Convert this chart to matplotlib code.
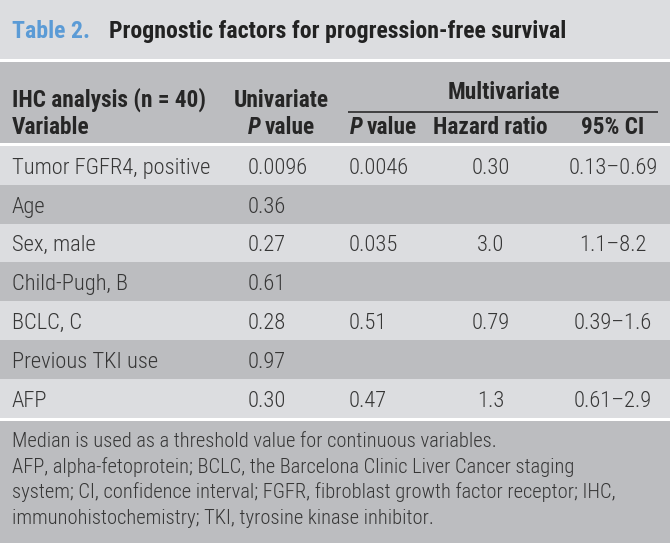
import matplotlib
matplotlib.use("Agg")
import matplotlib.pyplot as plt
from matplotlib import font_manager as fm
from matplotlib.font_manager import FontProperties
from matplotlib.textpath import TextPath

# ---------------- data ----------------
title_label = "Table 2."
title_text = "Prognostic factors for progression-free survival"
header_top = ["IHC analysis (n = 40)", "Univariate", "Multivariate"]
header_bottom = ["Variable", "value", "value", "Hazard ratio", "95% CI"]
variables = ["Tumor FGFR4, positive", "Age", "Sex, male", "Child-Pugh, B",
             "BCLC, C", "Previous TKI use", "AFP"]
uni_p = ["0.0096", "0.36", "0.27", "0.61", "0.28", "0.97", "0.30"]
multi_p = ["0.0046", "", "0.035", "", "0.51", "", "0.47"]
hazard = ["0.30", "", "3.0", "", "0.79", "", "1.3"]
ci95 = ["0.13\u20130.69", "", "1.1\u20138.2", "", "0.39\u20131.6", "", "0.61\u20132.9"]
footnotes = [
    "Median is used as a threshold value for continuous variables.",
    "AFP, alpha-fetoprotein; BCLC, the Barcelona Clinic Liver Cancer staging",
    "system; CI, confidence interval; FGFR, fibroblast growth factor receptor; IHC,",
    "immunohistochemistry; TKI, tyrosine kinase inhibitor.",
]

# ---------------- styling ----------------
W, H, DPI = 670, 543, 100
LIGHT = "#dcdde0"
DARK = "#bcbdc0"
BLUE = "#5b9bd6"
TXT = "#363636"
HTXT = "#262626"

avail = {f.name for f in fm.fontManager.ttflist}
FAM = "Liberation Sans"
for cand in ["Liberation Sans Narrow", "DejaVu Sans Condensed", "Roboto Condensed",
             "Open Sans Condensed", "Liberation Sans"]:
    if cand in avail:
        FAM = cand
        break
FAMS = [FAM, "DejaVu Sans"]
BODYW = 300


def fit_size(s, target_px, weight="normal", style="normal"):
    fp = FontProperties(family=FAMS, size=100, weight=weight, style=style)
    w = TextPath((0, 0), s, prop=fp).get_extents().width
    return 100.0 * target_px / (w * DPI / 72.0)


def text_w(s, size, weight="normal", style="normal"):
    fp = FontProperties(family=FAMS, size=size, weight=weight, style=style)
    return TextPath((0, 0), s, prop=fp).get_extents().width * DPI / 72.0


fs_title = fit_size(title_text, 455, weight="bold")
fs_head = fit_size(header_top[0], 191, weight="bold")
fs_body = fit_size(variables[0], 197, weight=BODYW)
fs_foot = fit_size(footnotes[2], 603, weight=BODYW)

fig = plt.figure(figsize=(W / DPI, H / DPI), dpi=DPI)
fig.patch.set_facecolor(LIGHT)
ax = fig.add_axes([0, 0, 1, 1])
ax.set_xlim(0, W)
ax.set_ylim(H, 0)
ax.axis("off")

# ---------------- backgrounds ----------------
ax.axhspan(0, 59, color=LIGHT, lw=0)
ax.axhspan(59, 62, color="white", lw=0)
ax.axhspan(62, 143, color=DARK, lw=0)
ax.axhspan(143, 146, color="white", lw=0)
row_top, row_bot = 146.0, 417.7
n = len(variables)
row_h = (row_bot - row_top) / n
for i in range(n):
    ax.axhspan(row_top + i * row_h, row_top + (i + 1) * row_h,
               color=LIGHT if i % 2 == 0 else DARK, lw=0)
ax.axhspan(417.7, 420.7, color="white", lw=0)
ax.axhspan(420.7, H, color=DARK, lw=0)

# ---------------- title ----------------
ax.text(12, 38.3, title_label, color=BLUE, fontsize=fs_title, fontweight="bold",
        family=FAMS, va="baseline", ha="left")
ax.text(109, 38.3, title_text, color="#222222", fontsize=fs_title, fontweight="bold",
        family=FAMS, va="baseline", ha="left")

# ---------------- header ----------------
hk = dict(color=HTXT, fontsize=fs_head, fontweight="bold", family=FAMS, va="baseline")
ax.text(12, 107, header_top[0], ha="left", **hk)
ax.text(234, 107, header_top[1], ha="left", **hk)
ax.text(503.5, 99.3, header_top[2], ha="center", **hk)
ax.plot([348, 658], [111.7, 111.7], color="#2a2a2a", lw=1.2, solid_capstyle="butt")

ax.text(12, 134, header_bottom[0], ha="left", **hk)
pw = text_w("P", fs_head, weight="bold", style="italic")
for x0, lab in [(248, header_bottom[1]), (350, header_bottom[2])]:
    ax.text(x0, 134, "P", ha="left", style="italic", **hk)
    ax.text(x0 + pw + 4, 134, lab, ha="left", **hk)
ax.text(490.5, 134, header_bottom[3], ha="center", **hk)
ax.text(613, 134, header_bottom[4], ha="center", **hk)

# ---------------- body ----------------
bk = dict(color=TXT, fontsize=fs_body, fontweight=BODYW, family=FAMS, va="baseline")
for i in range(n):
    yb = row_top + i * row_h + 27.7
    ax.text(12, yb, variables[i], ha="left", **bk)
    ax.text(248, yb, uni_p[i], ha="left", **bk)
    ax.text(349, yb, multi_p[i], ha="left", **bk)
    ax.text(490.5, yb, hazard[i], ha="center", **bk)
    ax.text(613, yb, ci95[i], ha="center", **bk)

# ---------------- footnotes ----------------
for j, line in enumerate(footnotes):
    ax.text(12, 447 + j * 25.7, line, color=TXT, fontsize=fs_foot, fontweight=BODYW,
            family=FAMS, va="baseline", ha="left")

fig.savefig("out.png", dpi=DPI, facecolor=fig.get_facecolor())
